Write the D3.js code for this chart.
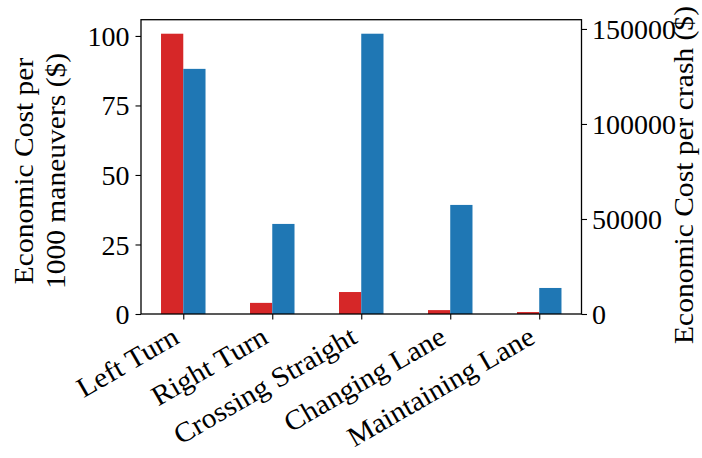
<!DOCTYPE html>
<html>
<head>
<meta charset="utf-8">
<script src="https://cdn.jsdelivr.net/npm/d3@7"></script>
<style>
  body { margin: 0; background: #fff; }
  svg { display: block; }
  text { font-family: "Liberation Serif", "DejaVu Serif", serif; fill: #000; }
</style>
</head>
<body>
<svg id="chart" width="702" height="458"></svg>
<script>
const categories = ["Left Turn", "Right Turn", "Crossing Straight", "Changing Lane", "Maintaining Lane"];
const costPerManeuver = [100.8, 4.0, 7.9, 1.4, 0.7];          // left axis, red
const costPerCrash = [129000, 47400, 147500, 57400, 13700];    // right axis, blue
const leftTicks = [0, 25, 50, 75, 100];
const rightTicks = [0, 50000, 100000, 150000];
const leftLabelLines = ["Economic Cost per", "1000 maneuvers ($)"];
const rightLabel = "Economic Cost per crash ($)";

const W = 702, H = 458;
const m = { left: 141, right: 581.5, top: 19.7, bottom: 314 };
const FS = 28, STRETCH = 1.055;
const red = "#d62728", blue = "#1f77b4";
const barW = 0.25;

const svg = d3.select("#chart");

const x = d3.scaleLinear().domain([-0.475, categories.length - 1 + 0.475]).range([m.left, m.right]);
const yL = d3.scaleLinear().domain([0, d3.max(costPerManeuver) * 1.05]).range([m.bottom, m.top]);
const yR = d3.scaleLinear().domain([0, d3.max(costPerCrash) * 1.05]).range([m.bottom, m.top]);

// bars
svg.append("g").selectAll("rect").data(costPerManeuver).join("rect")
  .attr("x", (d, i) => x(i - barW))
  .attr("width", (d, i) => x(i) - x(i - barW))
  .attr("y", d => yL(d))
  .attr("height", d => m.bottom - yL(d))
  .attr("fill", red);
svg.append("g").selectAll("rect").data(costPerCrash).join("rect")
  .attr("x", (d, i) => x(i))
  .attr("width", (d, i) => x(i + barW) - x(i))
  .attr("y", d => yR(d))
  .attr("height", d => m.bottom - yR(d))
  .attr("fill", blue);

function styleAxis(g) {
  g.select(".domain").remove();
  g.selectAll(".tick line").attr("stroke", "#000").attr("stroke-width", 1.1);
  g.selectAll(".tick text").style("font-size", FS + "px");
}

// left axis
svg.append("g").attr("transform", `translate(${m.left},0)`)
  .call(d3.axisLeft(yL).tickValues(leftTicks).tickSize(5.5).tickPadding(6).tickFormat(d3.format("d")))
  .call(styleAxis)
  .selectAll(".tick text").attr("dy", "0.34em");

// right axis
svg.append("g").attr("transform", `translate(${m.right},0)`)
  .call(d3.axisRight(yR).tickValues(rightTicks).tickSize(5.5).tickPadding(5).tickFormat(d3.format("d")))
  .call(styleAxis)
  .selectAll(".tick text").attr("dy", "0.34em");

// bottom axis
const gx = svg.append("g").attr("transform", `translate(0,${m.bottom})`)
  .call(d3.axisBottom(x).tickValues(d3.range(categories.length)).tickSize(5.5).tickFormat(i => categories[i]))
  .call(styleAxis);
gx.selectAll(".tick text")
  .attr("y", 0).attr("dy", 0)
  .attr("text-anchor", "end")
  .attr("transform", "translate(-3,28) rotate(-30)");

// frame
svg.append("rect")
  .attr("x", m.left).attr("y", m.top)
  .attr("width", m.right - m.left).attr("height", m.bottom - m.top)
  .attr("fill", "none").attr("stroke", "#000").attr("stroke-width", 1.3);

// axis titles
const lt = svg.append("text")
  .attr("transform", `translate(0,171) rotate(-90)`)
  .attr("text-anchor", "middle")
  .style("font-size", FS + "px");
lt.selectAll("tspan").data(leftLabelLines).join("tspan")
  .attr("x", 0).attr("y", (d, i) => 33 + i * 32)
  .text(d => d);

svg.append("text")
  .attr("transform", `translate(693,175) rotate(-90)`)
  .attr("text-anchor", "middle")
  .style("font-size", FS + "px")
  .text(rightLabel);

// stretch Liberation Serif to the wider reference face
svg.selectAll("text").each(function () {
  const el = this;
  const spans = el.querySelectorAll("tspan");
  const targets = spans.length ? Array.from(spans) : [el];
  targets.forEach(t => {
    const txt = t.textContent;
    if (/^[0-9]+$/.test(txt)) return;
    const len = t.getComputedTextLength();
    t.setAttribute("textLength", len * STRETCH);
    t.setAttribute("lengthAdjust", "spacingAndGlyphs");
  });
});
</script>
</body>
</html>
